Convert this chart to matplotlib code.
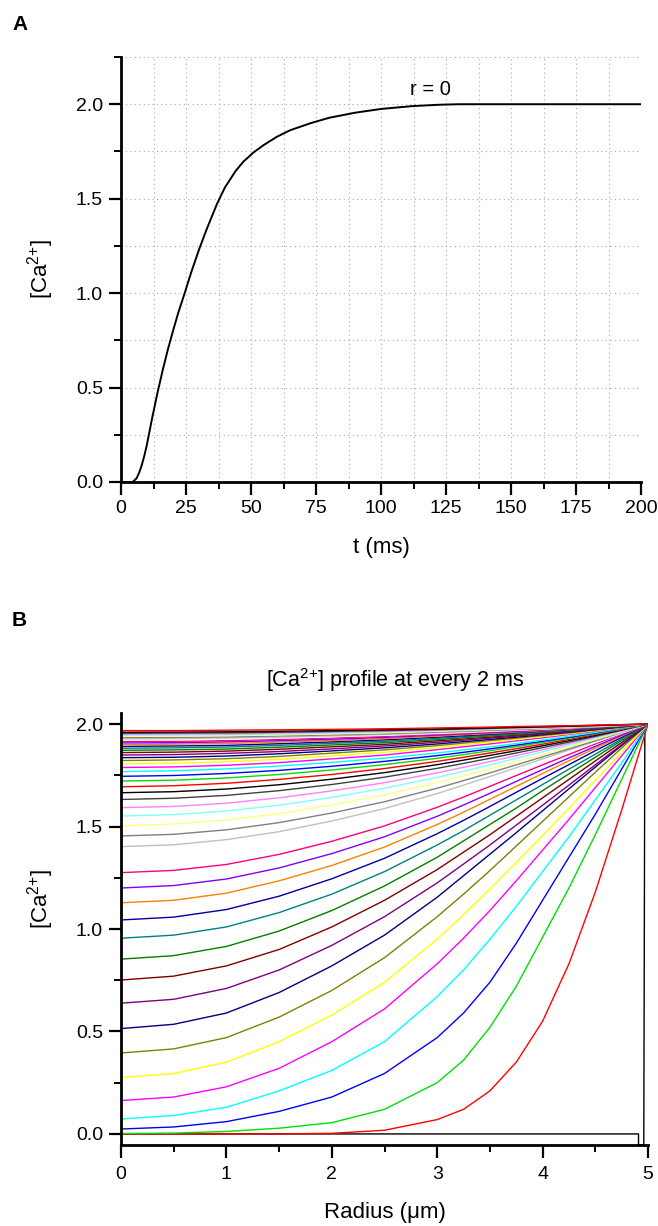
import matplotlib
matplotlib.use('Agg')
import matplotlib.pyplot as plt
from matplotlib.ticker import MultipleLocator, FormatStrFormatter

plt.rcParams['font.family'] = ['Liberation Sans', 'DejaVu Sans']
plt.rcParams['mathtext.fontset'] = 'custom'
plt.rcParams['mathtext.rm'] = 'Liberation Sans'
plt.rcParams['mathtext.it'] = 'Liberation Sans:italic'
plt.rcParams['mathtext.bf'] = 'Liberation Sans:bold'

# ---- panel A: [Ca2+] at r = 0 versus time
A_T = [0, 4.5, 6, 7, 8, 9, 10, 11, 12, 13, 14, 16, 18, 20, 22, 24.5, 27, 30, 33, 37,
       40, 44, 47, 51, 55, 60, 65, 73, 80, 90, 100, 112, 122, 130, 200]
A_CA = [0, 0, 0.02, 0.05, 0.09, 0.14, 0.2, 0.27, 0.34, 0.405, 0.47, 0.59, 0.7, 0.8, 0.895,
        1.0, 1.11, 1.23, 1.34, 1.475, 1.56, 1.645, 1.695, 1.745, 1.785, 1.828, 1.862, 1.9,
        1.928, 1.955, 1.975, 1.99, 1.997, 2.0, 2.0]
A_XTICKS = [0, 25, 50, 75, 100, 125, 150, 175, 200]
A_YTICKS = [0.0, 0.5, 1.0, 1.5, 2.0]

# ---- panel B: radial profiles every 2 ms
R_KNOTS = [0, 0.5, 1, 1.5, 2, 2.5, 3, 3.25, 3.5, 3.75, 4, 4.25, 4.5, 4.75, 5]

# t = 0 profile (black), drawn on its own points
P0_R = [0, 4.91, 4.91, 4.96, 4.97, 5.0]
P0_CA = [0, 0, -0.053, -0.053, 2.0, 2.0]

# profiles 1..49 at R_KNOTS
PROFILES = [
    [0.0, 0.0, 0.0, 0.0, 0.003, 0.018, 0.07, 0.12, 0.21, 0.35, 0.55, 0.83, 1.18, 1.58, 2.0],
    [0.002, 0.004, 0.012, 0.028, 0.055, 0.12, 0.25, 0.36, 0.52, 0.72, 0.96, 1.2, 1.46, 1.73, 2.0],
    [0.024, 0.034, 0.06, 0.11, 0.18, 0.295, 0.47, 0.59, 0.74, 0.93, 1.14, 1.35, 1.56, 1.78, 2.0],
    [0.073, 0.09, 0.13, 0.21, 0.31, 0.45, 0.67, 0.8, 0.95, 1.11, 1.28, 1.45, 1.63, 1.81, 2.0],
    [0.163, 0.18, 0.23, 0.32, 0.45, 0.61, 0.83, 0.955, 1.09, 1.235, 1.385, 1.535, 1.69, 1.845, 2.0],
    [0.275, 0.295, 0.35, 0.45, 0.58, 0.74, 0.95, 1.07, 1.195, 1.325, 1.455, 1.59, 1.725, 1.862, 2.0],
    [0.395, 0.415, 0.47, 0.57, 0.7, 0.86, 1.06, 1.17, 1.285, 1.405, 1.525, 1.645, 1.765, 1.883, 2.0],
    [0.514, 0.535, 0.59, 0.69, 0.82, 0.97, 1.155, 1.26, 1.365, 1.47, 1.577, 1.684, 1.79, 1.895, 2.0],
    [0.638, 0.657, 0.71, 0.8, 0.92, 1.06, 1.225, 1.317, 1.41, 1.507, 1.604, 1.702, 1.801, 1.9, 2.0],
    [0.751, 0.77, 0.82, 0.9, 1.01, 1.14, 1.29, 1.375, 1.46, 1.55, 1.64, 1.73, 1.82, 1.91, 2.0],
    [0.853, 0.87, 0.915, 0.99, 1.09, 1.21, 1.35, 1.43, 1.51, 1.59, 1.675, 1.757, 1.838, 1.92, 2.0],
    [0.955, 0.97, 1.01, 1.08, 1.17, 1.28, 1.41, 1.48, 1.555, 1.63, 1.705, 1.78, 1.853, 1.927, 2.0],
    [1.044, 1.058, 1.095, 1.16, 1.245, 1.345, 1.465, 1.53, 1.598, 1.667, 1.735, 1.802, 1.87, 1.935, 2.0],
    [1.128, 1.14, 1.175, 1.235, 1.31, 1.4, 1.51, 1.57, 1.633, 1.696, 1.759, 1.821, 1.882, 1.942, 2.0],
    [1.2, 1.212, 1.244, 1.298, 1.368, 1.45, 1.55, 1.605, 1.662, 1.72, 1.778, 1.835, 1.891, 1.946, 2.0],
    [1.275, 1.286, 1.315, 1.364, 1.428, 1.503, 1.594, 1.644, 1.696, 1.749, 1.801, 1.852, 1.903, 1.952, 2.0],
    [1.34, 1.35, 1.377, 1.421, 1.479, 1.547, 1.629, 1.675, 1.722, 1.77, 1.817, 1.864, 1.91, 1.955, 2.0],
    [1.402, 1.411, 1.436, 1.475, 1.527, 1.588, 1.661, 1.702, 1.744, 1.787, 1.83, 1.873, 1.916, 1.958, 2.0],
    [1.454, 1.462, 1.484, 1.519, 1.566, 1.621, 1.687, 1.724, 1.762, 1.801, 1.84, 1.879, 1.919, 1.96, 2.0],
    [1.504, 1.512, 1.532, 1.563, 1.605, 1.655, 1.714, 1.747, 1.782, 1.817, 1.852, 1.888, 1.925, 1.962, 2.0],
    [1.551, 1.558, 1.576, 1.604, 1.642, 1.687, 1.74, 1.77, 1.801, 1.833, 1.865, 1.898, 1.931, 1.965, 2.0],
    [1.592, 1.598, 1.614, 1.64, 1.674, 1.714, 1.762, 1.789, 1.817, 1.846, 1.875, 1.905, 1.936, 1.968, 2.0],
    [1.632, 1.638, 1.652, 1.675, 1.705, 1.741, 1.784, 1.808, 1.833, 1.859, 1.885, 1.912, 1.94, 1.97, 2.0],
    [1.665, 1.67, 1.683, 1.704, 1.731, 1.763, 1.802, 1.824, 1.847, 1.87, 1.894, 1.919, 1.945, 1.972, 2.0],
    [1.694, 1.699, 1.711, 1.73, 1.754, 1.783, 1.818, 1.838, 1.859, 1.88, 1.902, 1.925, 1.949, 1.974, 2.0],
    [1.722, 1.726, 1.737, 1.754, 1.776, 1.802, 1.833, 1.851, 1.87, 1.89, 1.91, 1.931, 1.953, 1.976, 2.0],
    [1.745, 1.749, 1.759, 1.774, 1.794, 1.818, 1.846, 1.862, 1.879, 1.897, 1.916, 1.935, 1.956, 1.978, 2.0],
    [1.768, 1.772, 1.781, 1.795, 1.813, 1.834, 1.859, 1.874, 1.889, 1.905, 1.922, 1.94, 1.959, 1.979, 2.0],
    [1.788, 1.791, 1.799, 1.812, 1.83, 1.849, 1.875, 1.889, 1.903, 1.918, 1.933, 1.949, 1.965, 1.982, 2.0],
    [1.806, 1.809, 1.816, 1.828, 1.845, 1.862, 1.886, 1.898, 1.911, 1.925, 1.939, 1.953, 1.968, 1.984, 2.0],
    [1.822, 1.825, 1.831, 1.842, 1.858, 1.874, 1.895, 1.907, 1.919, 1.931, 1.944, 1.957, 1.971, 1.985, 2.0],
    [1.836, 1.838, 1.844, 1.855, 1.869, 1.884, 1.903, 1.914, 1.925, 1.936, 1.948, 1.96, 1.973, 1.986, 2.0],
    [1.849, 1.851, 1.857, 1.866, 1.879, 1.893, 1.911, 1.921, 1.931, 1.941, 1.952, 1.963, 1.975, 1.987, 2.0],
    [1.861, 1.863, 1.868, 1.877, 1.889, 1.901, 1.918, 1.927, 1.936, 1.946, 1.956, 1.966, 1.977, 1.988, 2.0],
    [1.872, 1.874, 1.878, 1.887, 1.898, 1.909, 1.924, 1.933, 1.942, 1.95, 1.96, 1.969, 1.979, 1.989, 2.0],
    [1.882, 1.884, 1.888, 1.896, 1.906, 1.916, 1.93, 1.938, 1.946, 1.954, 1.963, 1.971, 1.981, 1.99, 2.0],
    [1.891, 1.893, 1.896, 1.904, 1.913, 1.923, 1.936, 1.943, 1.95, 1.958, 1.966, 1.974, 1.982, 1.991, 2.0],
    [1.9, 1.902, 1.905, 1.912, 1.92, 1.929, 1.941, 1.948, 1.954, 1.961, 1.968, 1.976, 1.984, 1.992, 2.0],
    [1.908, 1.909, 1.913, 1.919, 1.926, 1.935, 1.946, 1.952, 1.958, 1.964, 1.971, 1.978, 1.985, 1.992, 2.0],
    [1.915, 1.916, 1.919, 1.925, 1.932, 1.94, 1.95, 1.955, 1.961, 1.967, 1.973, 1.979, 1.986, 1.993, 2.0],
    [1.922, 1.923, 1.926, 1.931, 1.938, 1.945, 1.954, 1.959, 1.964, 1.97, 1.975, 1.981, 1.987, 1.993, 2.0],
    [1.928, 1.929, 1.932, 1.936, 1.942, 1.949, 1.958, 1.962, 1.967, 1.972, 1.977, 1.983, 1.988, 1.994, 2.0],
    [1.934, 1.935, 1.937, 1.942, 1.947, 1.953, 1.961, 1.965, 1.97, 1.974, 1.979, 1.984, 1.989, 1.994, 2.0],
    [1.94, 1.941, 1.943, 1.947, 1.952, 1.957, 1.965, 1.968, 1.973, 1.977, 1.981, 1.985, 1.99, 1.995, 2.0],
    [1.945, 1.946, 1.948, 1.951, 1.956, 1.961, 1.968, 1.971, 1.975, 1.979, 1.983, 1.987, 1.991, 1.995, 2.0],
    [1.95, 1.951, 1.952, 1.956, 1.96, 1.964, 1.97, 1.974, 1.977, 1.981, 1.984, 1.988, 1.992, 1.996, 2.0],
    [1.955, 1.956, 1.957, 1.96, 1.964, 1.968, 1.973, 1.976, 1.979, 1.983, 1.986, 1.989, 1.993, 1.996, 2.0],
    [1.96, 1.961, 1.962, 1.965, 1.968, 1.972, 1.976, 1.979, 1.982, 1.984, 1.987, 1.99, 1.993, 1.997, 2.0],
    [1.968, 1.968, 1.97, 1.972, 1.974, 1.977, 1.981, 1.983, 1.985, 1.988, 1.99, 1.992, 1.995, 1.997, 2.0],
]

# Origin default colour cycle
PROFILE_COLORS = ['#000000', '#FF0000', '#00E000', '#0000FF', '#00FFFF', '#FF00FF',
                  '#FFFF00', '#808000', '#000080', '#800080', '#800000', '#008000',
                  '#008080', '#0000A0', '#FF8000', '#8000FF', '#FF0080', '#FFFFFF',
                  '#C0C0C0', '#808080', '#FFFF80', '#80FFFF', '#FF80FF', '#404040']
B_XTICKS = [0, 1, 2, 3, 4, 5]
B_YTICKS = [0.0, 0.5, 1.0, 1.5, 2.0]

W, H = 658, 1226
fig = plt.figure(figsize=(W / 100, H / 100), dpi=100)

ca_label = r'[Ca$^{2{+}}$]'


def style_axes(ax):
    for s in ['top', 'right']:
        ax.spines[s].set_visible(False)
    for s in ['left', 'bottom']:
        ax.spines[s].set_linewidth(2.0)
    ax.tick_params(which='major', direction='out', length=9, width=1.6, labelsize=14, pad=4)
    ax.tick_params(which='minor', direction='out', length=5, width=1.4)
    ax.yaxis.set_major_formatter(FormatStrFormatter('%.1f'))


# Panel A
axA = fig.add_axes([121 / W, 1 - 482 / H, 520 / W, 425 / H])
axA.plot(A_T, A_CA, color='black', lw=1.4)
axA.set_xlim(0, 200)
axA.set_ylim(0, 2.25)
axA.set_xticks(A_XTICKS)
axA.set_yticks(A_YTICKS)
axA.xaxis.set_minor_locator(MultipleLocator(12.5))
axA.yaxis.set_minor_locator(MultipleLocator(0.25))
axA.grid(which='both', ls=(0, (1, 3)), color='#a8a8a8', lw=0.8)
style_axes(axA)
axA.set_xlabel('t (ms)', fontsize=16, labelpad=14)
axA.set_ylabel(ca_label, fontsize=16)
axA.yaxis.set_label_coords(-0.125, 0.5)
axA.text(119, 2.08, 'r = 0', fontsize=14.5, ha='center', va='center')
fig.text(12 / W, 1 - 25 / H, 'A', fontsize=15, fontweight='bold', va='center')

# Panel B
axB = fig.add_axes([121 / W, 1 - 1145 / H, 527 / W, 432 / H])
axB.plot(P0_R, P0_CA, color=PROFILE_COLORS[0], lw=1.0)
for k, prof in enumerate(PROFILES, start=1):
    axB.plot(R_KNOTS, prof, color=PROFILE_COLORS[k % len(PROFILE_COLORS)], lw=1.0)
axB.set_xlim(0, 5)
axB.set_ylim(-0.054, 2.054)
axB.set_xticks(B_XTICKS)
axB.set_yticks(B_YTICKS)
axB.xaxis.set_minor_locator(MultipleLocator(0.5))
axB.yaxis.set_minor_locator(MultipleLocator(0.25))
style_axes(axB)
axB.tick_params(axis='x', which='major', pad=6)
axB.set_xlabel('Radius (\u03bcm)', fontsize=16, labelpad=14)
axB.set_ylabel(ca_label, fontsize=16)
axB.yaxis.set_label_coords(-0.123, 0.57)
fig.text(395 / W, 1 - 680 / H, r'[Ca$^{2{+}}$] profile at every 2 ms', fontsize=15.5,
         ha='center', va='center')
fig.text(12 / W, 1 - 620 / H, 'B', fontsize=15, fontweight='bold', va='center')

fig.savefig('out.png', dpi=100)
